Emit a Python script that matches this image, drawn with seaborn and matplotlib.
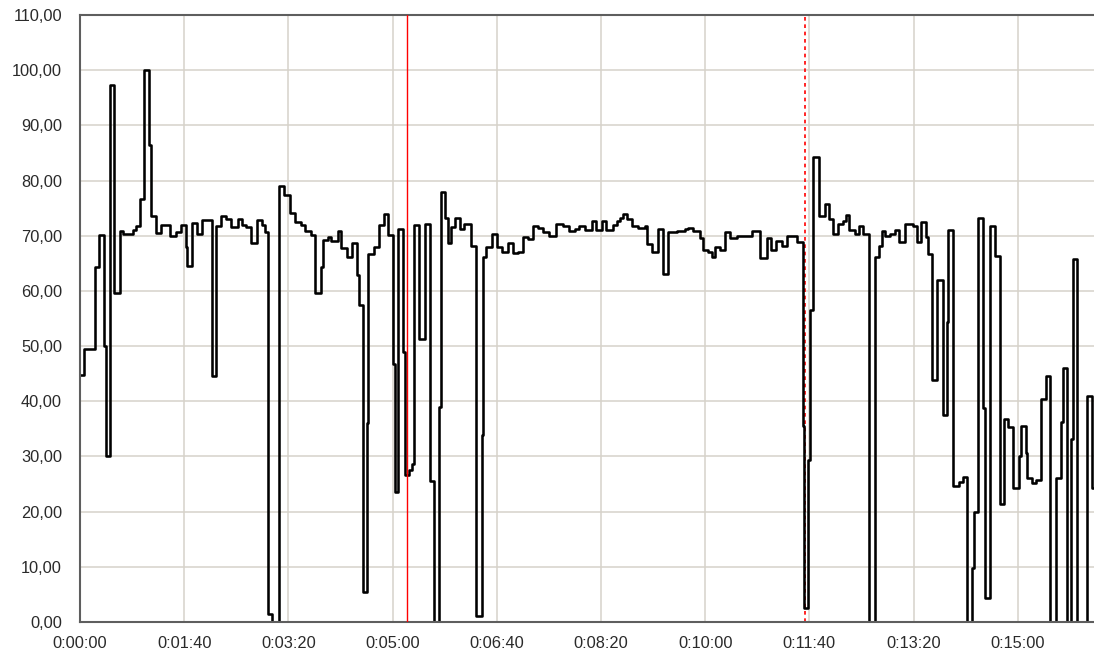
import matplotlib
matplotlib.use("Agg")
import matplotlib.pyplot as plt
from matplotlib.ticker import FuncFormatter, MultipleLocator
import seaborn as sns
import pandas as pd

# Recorded speed signal: step start time (s) and value (%)
time_s = [
    0, 4.1, 14.2, 14.8, 18, 23, 24.6, 29, 33.1, 38.8, 41.6, 50.5, 53.6, 57.7,
    61.5, 66.2, 68.5, 73.2, 77.9, 86.8, 92.1, 96.8, 101.6, 102.5, 107.3, 112,
    116.7, 126.8, 130.9, 135.6, 140.4, 145.1, 151.4, 155.2, 159.3, 164, 170.3,
    174.4, 177.3, 180.4, 184.5,
    191.4, 196.2, 201.6, 206.7, 212.2, 216.3, 221.8, 225.9, 231.3, 233.6,
    237.7, 240.9, 247.3, 250.5, 256, 261.1, 265.6, 267.5, 271.3, 275.5, 276.8,
    282.5, 286.7, 291.5, 296, 300.8, 302.4, 305.6, 310.4, 312.3, 316.1, 318.7,
    320.9, 325.7, 331.5, 336, 340.1, 344.9, 346.5, 350.7, 352.9, 356.1, 360.3,
    364.7, 368.9, 375.3, 380.1, 385.5, 386.5,
    389.6, 395.1, 399.9, 404.7, 411.1, 415.9, 420.7, 425.5, 430.3, 435.1,
    439.9, 444.7, 450.4, 456.8, 463.9, 469.7, 475.1, 479.2, 484.7, 491.1,
    495.2, 500.7, 504.8, 511.2, 515.1, 518.2, 521.4, 524.6, 529.4, 535.8,
    542.2, 544.5, 548.7, 555.1, 559.9, 564.7, 572.7, 575.9, 580.7, 583.9,
    588.7, 595.1, 598.3, 603.1, 606.3, 609.5, 614.2, 619, 623.8, 630.2, 644.6,
    652.6, 659, 662.8, 668, 673.4, 678.2, 687.8,
    693.5, 694.8, 699, 700.6, 703.8, 709.5, 715, 719.1, 722.3, 727.7, 732.6,
    735.1, 738.3, 743.7, 747.6, 751.7, 757.5, 762.9, 767.1, 769.3, 772.6,
    777.4, 782.2, 786.3, 791.8, 799.1, 803, 807.2, 812, 814.2,
    817.3, 822.1, 822.7, 827.9, 832.3, 833.3, 838.1, 843.9, 847.7, 851.5,
    855.7, 857.9, 862.1, 866.9, 868.5, 873.3, 878.1, 882.9, 886.7, 890.9,
    895.7, 901.4, 902.7, 907.8, 909.1, 913.3, 917.4, 921.9, 927, 930.9, 936.6,
    941.4, 943, 946.9, 951, 952.6, 956.5, 966.7, 970.9, 975,
]
speed_pct = [
    44.7, 49.5, 56.7, 64.3, 70.1, 50, 30, 97.3, 59.7, 70.8, 70.3, 71, 71.8, 76.7,
    100, 86.5, 73.6, 70.5, 72, 70, 70.6, 72, 68, 64.5, 72.3, 70.3,
    72.8, 44.6, 71.8, 73.5, 73, 71.6, 73.1, 72, 71.6, 68.6, 72.8,
    72, 70.6, 1.5, 0,
    79.0, 77.4, 74.2, 72.4, 71.9, 70.8, 70.1, 59.6, 64.4, 69.2,
    69.7, 69.1, 70.8, 67.7, 66.2, 68.6, 62.8, 57.4, 5.5, 36, 66.7,
    68, 71.9, 73.9, 70.1, 46.8, 23.6, 71.3, 48.9, 26.7, 27.5, 28.6,
    71.9, 51.2, 72.1, 25.6, 0, 38.9, 78, 73.2, 68.6, 71.5, 73.2,
    71.2, 72.1, 68.1, 1, 33.8, 66.2,
    68, 70.4, 68.0, 67.1, 68.6, 66.8, 67.0, 69.7, 69.4, 71.8,
    71.4, 70.6, 70, 72.2, 71.8, 70.8, 71.2, 71.8, 71.1, 72.6,
    71.1, 72.6, 71, 72, 72.6, 73.3, 73.9, 73, 71.8, 71.4,
    71.8, 68.5, 67, 71.2, 63.1, 70.6, 70.8, 70.9, 71.2, 71.4,
    70.9, 69.6, 67.4, 67, 66.2, 67.9, 67.4, 70.6, 69.6, 70, 70.8,
    66, 69.6, 67.4, 69, 68.2, 70, 68.8,
    35.5, 2.5, 29.4, 56.5, 84.2, 73.6, 75.8, 73, 70.4, 72.1, 72.6,
    73.8, 71, 70.4, 71.8, 70.4, 0, 66.1, 68.2, 70.8, 70,
    70.4, 71, 68.8, 72.1, 71.8, 68.8, 72.5, 69.7, 66.7,
    43.8, 52.8, 61.9, 37.5, 54.3, 71, 24.6, 25.3, 26.3, 0,
    9.8, 19.9, 73.2, 38.7, 4.3, 71.8, 66.3, 21.3, 36.7, 35.3,
    24.3, 30, 35.5, 30.7, 26.1, 25.2, 25.8, 40.4, 44.6, 0, 26.1,
    36.2, 46.1, 0, 33.1, 65.8, 0, 41, 24.3, 24.3,
]

# Event markers (s)
marker_solid_s = 313.5
marker_dashed_s = 695.8

x_max_s = 973.1
y_min, y_max = 0, 110

df = pd.DataFrame({"t": time_s, "v": speed_pct})

sns.set_style("white")
plt.rcParams["font.family"] = ["Liberation Sans", "DejaVu Sans"]

fig = plt.figure(figsize=(10.94, 6.57), dpi=100)
ax = fig.add_axes([80 / 1094, 35 / 657, 1 - 80 / 1094, (622 - 15) / 657])

ax.set_axisbelow(True)
ax.grid(True, color="#d6d2ca", linewidth=1.1)

sns.lineplot(data=df, x="t", y="v", ax=ax, color="black", linewidth=1.85,
             drawstyle="steps-post", estimator=None, sort=False)

ax.axvline(marker_solid_s, color="#ff0000", linewidth=1.0, zorder=3)
ax.axvline(marker_dashed_s, color="#ff0000", linewidth=1.2,
           linestyle=(0, (2.2, 2.2)), zorder=1.5)

ax.set_xlim(0, x_max_s)
ax.set_ylim(y_min, y_max)
ax.xaxis.set_major_locator(MultipleLocator(100))
ax.yaxis.set_major_locator(MultipleLocator(10))


def fmt_time(v, _pos):
    s = int(round(v))
    return f"{s // 3600}:{(s % 3600) // 60:02d}:{s % 60:02d}"


def fmt_val(v, _pos):
    return f"{v:.2f}".replace(".", ",")


ax.xaxis.set_major_formatter(FuncFormatter(fmt_time))
ax.yaxis.set_major_formatter(FuncFormatter(fmt_val))

ax.tick_params(axis="both", length=0, labelsize=11.8, labelcolor="#2a2a2a")
ax.tick_params(axis="y", pad=13)
ax.tick_params(axis="x", pad=10)

ax.set_xlabel("")
ax.set_ylabel("")

for side in ("left", "top", "bottom"):
    ax.spines[side].set_color("#5e5e5e")
    ax.spines[side].set_linewidth(1.5)
ax.spines["right"].set_visible(False)

fig.savefig("out.png", dpi=100)
